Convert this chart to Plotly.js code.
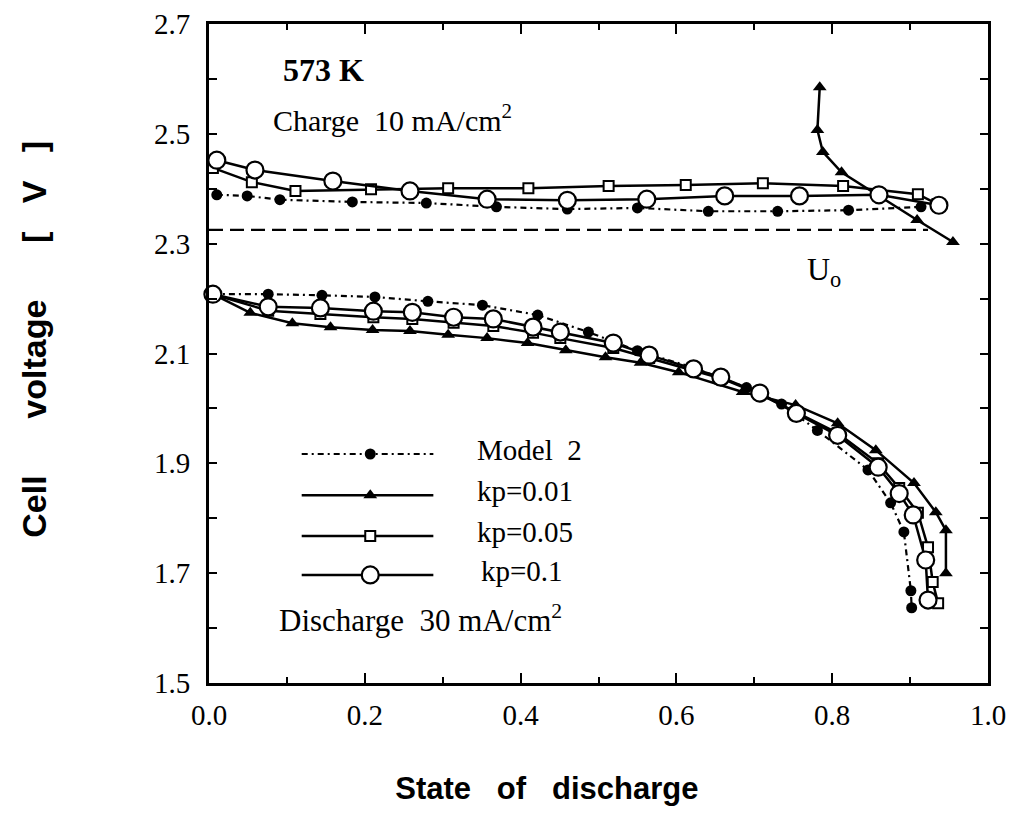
<!DOCTYPE html>
<html>
<head>
<meta charset="utf-8">
<script src="https://cdn.plot.ly/plotly-3.0.1.min.js"></script>
<style>html,body{margin:0;padding:0;background:#fff;}#chart{width:1011px;height:825px;}</style>
</head>
<body>
<div id="chart"></div>
<script>
// ---------- Data ----------
// Charge, 10 mA/cm2
var chgModel2X = [0.010,0.049,0.091,0.184,0.279,0.369,0.460,0.550,0.641,0.730,0.821,0.914];
var chgModel2Y = [2.389,2.387,2.380,2.376,2.374,2.367,2.363,2.365,2.359,2.359,2.361,2.367];
var chgKp001X = [0.784,0.781,0.788,0.812,0.909,0.955];
var chgKp001Y = [2.585,2.507,2.467,2.430,2.343,2.303];
var chgKp005X = [0.005,0.055,0.111,0.208,0.307,0.410,0.513,0.612,0.711,0.814,0.910,0.935];
var chgKp005Y = [2.438,2.412,2.396,2.399,2.401,2.401,2.405,2.407,2.410,2.405,2.390,2.372];
var chgKp01X = [0.010,0.059,0.159,0.258,0.357,0.460,0.562,0.662,0.758,0.860,0.937];
var chgKp01Y = [2.452,2.434,2.414,2.396,2.381,2.379,2.381,2.387,2.387,2.389,2.370];
// Equilibrium voltage U0
var uoX = [0.0, 0.923];
var uoY = [2.325, 2.325];
// Discharge, 30 mA/cm2
var disModel2X = [0.005,0.076,0.145,0.213,0.281,0.351,0.422,0.487,0.550,0.620,0.690,0.735,0.781,0.846,0.875,0.892,0.901,0.902];
var disModel2Y = [2.208,2.208,2.206,2.203,2.195,2.188,2.170,2.139,2.105,2.075,2.038,2.008,1.960,1.888,1.828,1.775,1.668,1.637];
var disKp001X = [0.005,0.053,0.107,0.156,0.210,0.258,0.307,0.357,0.409,0.458,0.509,0.554,0.603,0.685,0.753,0.807,0.856,0.905,0.933,0.946,0.946];
var disKp001Y = [2.208,2.174,2.155,2.148,2.143,2.141,2.134,2.128,2.119,2.106,2.093,2.083,2.066,2.030,2.006,1.973,1.924,1.864,1.811,1.778,1.700];
var disKp005X = [0.005,0.076,0.143,0.211,0.261,0.314,0.365,0.416,0.451,0.519,0.565,0.622,0.657,0.707,0.754,0.807,0.859,0.886,0.910,0.923,0.929,0.936];
var disKp005Y = [2.208,2.178,2.172,2.166,2.163,2.156,2.150,2.138,2.128,2.110,2.092,2.070,2.055,2.026,1.992,1.955,1.900,1.855,1.810,1.747,1.684,1.645];
var disKp01X = [0.005,0.076,0.143,0.211,0.261,0.314,0.365,0.416,0.451,0.519,0.565,0.622,0.657,0.707,0.754,0.807,0.859,0.886,0.904,0.920,0.923];
var disKp01Y = [2.208,2.185,2.183,2.177,2.175,2.166,2.163,2.148,2.139,2.119,2.097,2.072,2.057,2.028,1.991,1.951,1.893,1.845,1.806,1.724,1.651];

var legendLabels = ['Model&nbsp; 2', 'kp=0.01', 'kp=0.05', 'kp=0.1'];
var yTickVals = [1.5,1.7,1.9,2.1,2.3,2.5,2.7];
var yTickText = ['1.5','1.7','1.9','2.1','2.3','2.5','2.7'];
var xTickVals = [0,0.2,0.4,0.6,0.8,1.0];
var xTickText = ['0.0','0.2','0.4','0.6','0.8','1.0'];

// ---------- Styles ----------
var K = '#000';
var LW = 2.5;
var styles = {
  model2: {line:{color:K,width:2.2,dash:'6px,4px,2px,4px'}, marker:{symbol:'circle',size:11,color:K}},
  kp001:  {line:{color:K,width:LW}, marker:{symbol:'triangle-up',size:12,color:K}},
  kp005:  {line:{color:K,width:LW}, marker:{symbol:'square',size:10,color:'#fff',line:{color:K,width:2}}},
  kp01:   {line:{color:K,width:LW}, marker:{symbol:'circle',size:17,color:'#fff',line:{color:K,width:2.2}}}
};
function tr(x,y,st){
  return {x:x,y:y,type:'scatter',mode:'lines+markers',line:st.line,marker:st.marker,showlegend:false,hoverinfo:'x+y',cliponaxis:false};
}
var data = [];
data.push({x:uoX,y:uoY,type:'scatter',mode:'lines',line:{color:K,width:2.2,dash:'14px,7px'},showlegend:false});
data.push(tr(chgModel2X,chgModel2Y,styles.model2));
data.push(tr(disModel2X,disModel2Y,styles.model2));
data.push(tr(chgKp001X,chgKp001Y,styles.kp001));
data.push(tr(disKp001X,disKp001Y,styles.kp001));
data.push(tr(chgKp005X,chgKp005Y,styles.kp005));
data.push(tr(disKp005X,disKp005Y,styles.kp005));
data.push(tr(chgKp01X,chgKp01Y,styles.kp01));
data.push(tr(disKp01X,disKp01Y,styles.kp01));

// ---------- Hand-drawn legend (on an overlaid 0..1 axis) ----------
var legRowY = [0.3475,0.285,0.223,0.164];
var legLineX = [0.119,0.288];
var legMarkX = 0.207;
var legTextX = [0.341,0.341,0.341,0.346];
var legStyles = [styles.model2, styles.kp001, styles.kp005, styles.kp01];
var serif = 'Liberation Serif';
var annotations = [];
for (var i=0;i<4;i++){
  data.push({x:legLineX,y:[legRowY[i],legRowY[i]],xaxis:'x2',yaxis:'y2',type:'scatter',mode:'lines',line:legStyles[i].line,showlegend:false,hoverinfo:'skip'});
  data.push({x:[legMarkX],y:[legRowY[i]],xaxis:'x2',yaxis:'y2',type:'scatter',mode:'markers',marker:legStyles[i].marker,showlegend:false,hoverinfo:'skip'});
  annotations.push({xref:'paper',yref:'paper',x:legTextX[i],y:legRowY[i]+0.006,xanchor:'left',yanchor:'middle',showarrow:false,text:legendLabels[i],
    font:{family:serif,size:29,color:K}});
}

annotations.push({xref:'paper',yref:'paper',x:0.1476,y:0.930,xanchor:'center',yanchor:'middle',showarrow:false,text:'573 K',font:{family:serif,size:32,color:K,weight:'bold'}});
annotations.push({xref:'paper',yref:'paper',x:0.080,y:0.857,xanchor:'left',yanchor:'middle',showarrow:false,text:'Charge&nbsp; 10 mA/cm<sup>2</sup>',font:{family:serif,size:30,color:K}});
annotations.push({xref:'paper',yref:'paper',x:0.790,y:0.625,xanchor:'center',yanchor:'middle',showarrow:false,text:'U<sub>o</sub>',font:{family:serif,size:32,color:K}});
annotations.push({xref:'paper',yref:'paper',x:0.087,y:0.098,xanchor:'left',yanchor:'middle',showarrow:false,text:'Discharge&nbsp; 30 mA/cm<sup>2</sup>',font:{family:serif,size:31,color:K}});

var layout = {
  width:1011, height:825,
  margin:{l:209,r:23,t:24,b:142},
  paper_bgcolor:'#fff', plot_bgcolor:'#fff',
  showlegend:false,
  xaxis:{
    range:[0,1], tickvals:xTickVals, ticktext:xTickText,
    ticks:'inside', ticklen:10, tickwidth:2, tickcolor:K,
    minor:{dtick:0.1, tick0:0, ticks:'inside', ticklen:6, tickwidth:2, tickcolor:K},
    showline:true, linewidth:3, linecolor:K, mirror:'ticks',
    showgrid:false, zeroline:false,
    tickfont:{family:serif,size:29,color:K}, ticklabelstandoff:4,
    title:{text:'State&nbsp;&nbsp; of&nbsp;&nbsp; discharge' + '&nbsp;'.repeat(12), font:{family:'Liberation Sans',size:31,color:K,weight:'bold'}, standoff:48}
  },
  yaxis:{
    range:[1.5,2.7], tickvals:yTickVals, ticktext:yTickText,
    ticks:'inside', ticklen:8, tickwidth:2, tickcolor:K,
    minor:{dtick:0.1, tick0:1.5, ticks:'inside', ticklen:8, tickwidth:2, tickcolor:K},
    showline:true, linewidth:3, linecolor:K, mirror:'ticks',
    showgrid:false, zeroline:false,
    tickfont:{family:serif,size:29,color:K}, ticklabelstandoff:10,
    title:{text:'&nbsp;&nbsp;&nbsp;Cell&nbsp;&nbsp;&nbsp;&nbsp;&nbsp; voltage&nbsp;&nbsp;&nbsp;&nbsp;&nbsp; [&nbsp;&nbsp; V&nbsp;&nbsp; ]', font:{family:'Liberation Sans',size:34,color:K,weight:'bold'}, standoff:98}
  },
  xaxis2:{range:[0,1],overlaying:'x',visible:false,fixedrange:true},
  yaxis2:{range:[0,1],overlaying:'y',visible:false,fixedrange:true},
  annotations:annotations
};
Plotly.newPlot('chart', data, layout, {displayModeBar:false, staticPlot:true});
</script>
</body>
</html>
